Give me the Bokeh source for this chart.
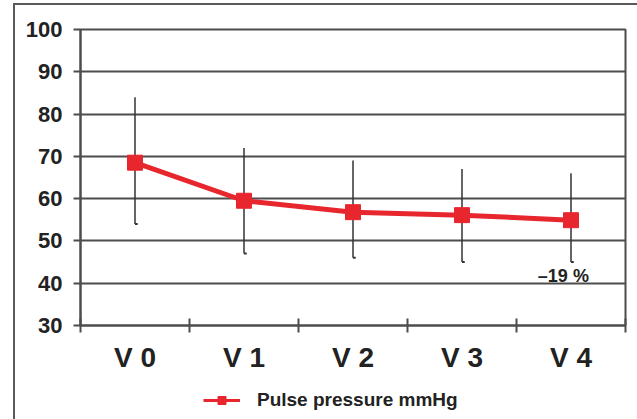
from bokeh.plotting import figure
from bokeh.layouts import column
from bokeh.models import FixedTicker, Legend, LegendItem, ColumnDataSource, Range1d
from bokeh.core.properties import value
from bokeh.embed import file_html
from bokeh.resources import INLINE

visits = ["V 0", "V 1", "V 2", "V 3", "V 4"]
means = [68.5, 59.5, 56.8, 56.1, 54.9]
upper = [84, 72, 69, 67, 66]
lower = [54, 47, 46, 45, 45]
y_ticks = [30, 40, 50, 60, 70, 80, 90, 100]
series_name = "Pulse pressure mmHg"
note_text = "\u201319 %"

FONT = "Liberation Sans"
RED = "#e8262d"
GRID = "#4d4d4d"
TXT = "#222222"

xs = [i + 0.5 for i in range(len(visits))]

p = figure(width=622, height=372, output_backend="svg", toolbar_location=None,
           x_range=Range1d(0, len(visits)), y_range=Range1d(30, 100),
           min_border_left=65, min_border_right=12, min_border_top=24, min_border_bottom=52)

p.outline_line_color = GRID
p.outline_line_width = 2
p.xgrid.visible = False
p.ygrid.grid_line_color = GRID
p.ygrid.grid_line_width = 2
p.ygrid.ticker = FixedTicker(ticks=y_ticks)

# y axis
ya = p.yaxis[0]
ya.ticker = FixedTicker(ticks=y_ticks)
ya.axis_line_color = GRID
ya.axis_line_width = 2
ya.major_tick_line_color = GRID
ya.major_tick_line_width = 2
ya.major_tick_in = 0
ya.major_tick_out = 7
ya.minor_tick_line_color = None
ya.major_label_text_font = FONT
ya.major_label_text_font_style = "bold"
ya.major_label_text_font_size = "22px"
ya.major_label_text_color = TXT
ya.major_label_standoff = 11

# x axis
xa = p.xaxis[0]
xa.ticker = FixedTicker(ticks=xs, minor_ticks=list(range(len(visits) + 1)))
xa.major_label_overrides = {x: v for x, v in zip(xs, visits)}
xa.axis_line_color = GRID
xa.axis_line_width = 2
xa.major_tick_line_color = None
xa.minor_tick_line_color = GRID
xa.minor_tick_line_width = 2
xa.minor_tick_in = 7
xa.minor_tick_out = 7
xa.major_label_text_font = FONT
xa.major_label_text_font_style = "bold"
xa.major_label_text_font_size = "28px"
xa.major_label_text_color = TXT
xa.major_label_standoff = 9

# error bars
p.segment(x0=xs, y0=lower, x1=xs, y1=upper, line_color="#333333", line_width=1.5)
p.segment(x0=xs, y0=lower, x1=[x + 0.025 for x in xs], y1=lower, line_color="#333333", line_width=2)

# series
src = ColumnDataSource(dict(x=xs, y=means))
p.line("x", "y", source=src, line_color=RED, line_width=5)
p.scatter("x", "y", source=src, marker="square", size=15, fill_color=RED, line_color=RED)

# annotation
p.text(x=[xs[-1] - 0.07], y=[41.8], text=[note_text], text_font=value(FONT),
       text_font_style="bold", text_font_size="18px", text_align="center",
       text_baseline="middle", text_color=TXT)

# legend strip (series drawn out of view here, only its legend shows)
pl = figure(width=622, height=42, output_backend="svg", toolbar_location=None,
            x_range=Range1d(0, 1), y_range=Range1d(0, 1),
            x_axis_location=None, y_axis_location=None, min_border=0)
pl.outline_line_color = None
pl.xgrid.visible = False
pl.ygrid.visible = False
lg_line = pl.line("x", "y", source=src, line_color=RED, line_width=3)
lg_mark = pl.scatter("x", "y", source=src, marker="square", size=10, fill_color=RED, line_color=RED)
legend = Legend(items=[LegendItem(label=series_name, renderers=[lg_line, lg_mark])],
                location=(123, 8), orientation="horizontal",
                glyph_width=37, glyph_height=20, label_standoff=17,
                label_text_font=FONT, label_text_font_style="bold",
                label_text_font_size="19px", label_text_color=TXT,
                border_line_color=None, background_fill_alpha=0,
                padding=0, margin=0)
pl.add_layout(legend, "center")

layout = column(p, pl, spacing=0)
layout.margin = (3, 0, 0, 13)
layout.styles = {"border-left": "2px solid #5a5a5a", "border-top": "2px solid #5a5a5a"}

open("out.html", "w").write(file_html(layout, INLINE))
